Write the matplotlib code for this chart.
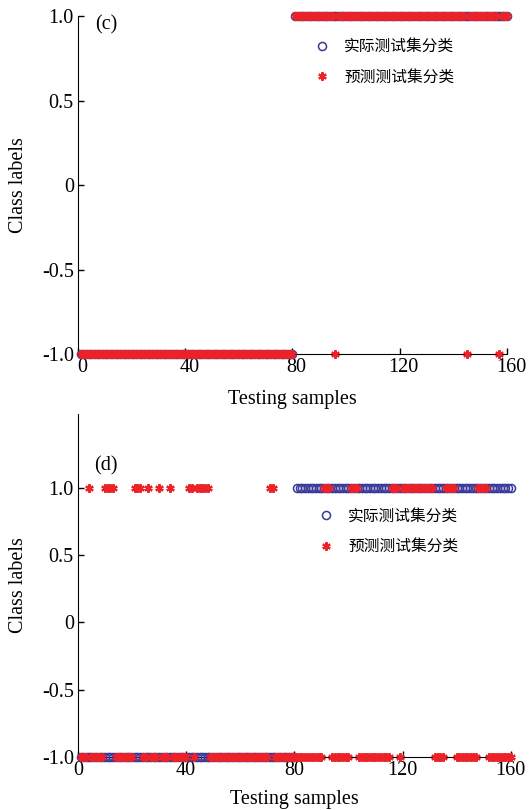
import numpy as np
import matplotlib.pyplot as plt
from matplotlib.transforms import ScaledTranslation

plt.rcParams['font.family'] = ['Liberation Serif', 'DejaVu Serif']

# test samples and the true classes (first half -1, second half 1)
samples = np.arange(1, 161)
actual = np.where(samples <= 80, -1, 1)

# (c): samples predicted as -1 (everything else predicted as 1)
neg_c = list(range(1, 81)) + [96, 145, 157]
# (d): samples predicted as 1
pos_d = [4, 10, 11, 12, 13, 21, 22, 23, 26, 30, 34, 41, 42, 44, 45, 46, 47, 48, 71, 72,
         91, 92, 93, 101, 102, 103, 116, 117, 118, 120, 121, 122, 123, 124, 125, 126,
         127, 128, 129, 130, 131, 136, 137, 138, 139, 148, 149, 150, 151]

pred_c = np.where(np.isin(samples, neg_c), -1, 1)
pred_d = np.where(np.isin(samples, pos_d), 1, -1)

xticks = [0, 40, 80, 120, 160]
yticks = [-1.0, -0.5, 0, 0.5, 1.0]
yticklabels = ['-1.0', '-0.5', '0', '0.5', '1.0']
legend_labels = ['实际测试集分类', '预测测试集分类']

blue = '#38399a'
red = '#ec2229'
cjk = ['Noto Sans CJK SC', 'DejaVu Sans']
fs = 14.5

fig = plt.figure(figsize=(5.29, 8.10), dpi=100)
ax1 = fig.add_axes([0.1474, 0.563, 0.811, 0.417])
ax2 = fig.add_axes([0.1474, 0.0654, 0.818, 0.424])


def draw(ax, pred, tag, ytop, tag_y, leg_pos, xlpad, xshift):
    ax.plot(samples, actual, 'o', mfc='none', mec=blue, ms=5.8, mew=1.1,
            clip_on=False, zorder=3, label=legend_labels[0])
    ax.plot(samples, pred, ls='none', marker=(6, 2, 0), color=red, ms=6, mew=1.6,
            clip_on=False, zorder=4, label=legend_labels[1])
    ax.set_xlim(0, 160)
    ax.set_ylim(-1, ytop)
    ax.set_xticks(xticks)
    ax.set_yticks(yticks)
    ax.set_yticklabels(yticklabels)
    for s in ['top', 'right']:
        ax.spines[s].set_visible(False)
    ax.tick_params(direction='in', length=4, width=1, labelsize=fs, pad=3)
    if xshift:
        off = ScaledTranslation(xshift / 100, 0, fig.dpi_scale_trans)
        for lab in ax.get_xticklabels():
            lab.set_transform(lab.get_transform() + off)
    ax.set_xlabel('Testing samples', fontsize=fs, labelpad=xlpad)
    ax.set_ylabel('Class labels', fontsize=fs, labelpad=10)
    ax.text(10.5, tag_y, tag, fontsize=fs, va='center', ha='center')
    ax.legend(loc='upper left', bbox_to_anchor=leg_pos, frameon=False,
              prop={'family': cjk, 'size': 11.3}, borderpad=0, borderaxespad=0,
              handlelength=1.0, handletextpad=0.9, labelspacing=0.85,
              numpoints=1)


draw(ax1, pred_c, '(c)', 1.0, 0.95, (0.551, 0.935), 9, 4)
draw(ax2, pred_d, '(d)', 1.55, 1.16, (0.555, 0.726), 7, 0)

fig.savefig('out.png', dpi=100)
